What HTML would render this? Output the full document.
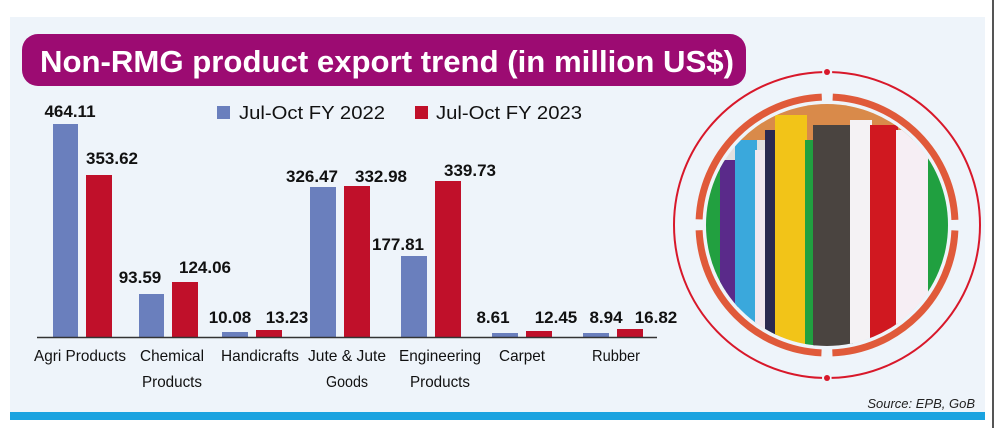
<!DOCTYPE html>
<html><head><meta charset="utf-8"><style>
html,body{margin:0;padding:0;background:#fff;}
svg{display:block}
text{font-family:"Liberation Sans",sans-serif;}
</style></head><body>
<svg width="996" height="428" viewBox="0 0 996 428">
<rect x="0" y="0" width="996" height="428" fill="#fff"/>
<rect x="10" y="17" width="975" height="396" fill="#eef4fa"/>
<rect x="10" y="412" width="975" height="8" fill="#1aa3e0"/>
<rect x="992" y="0" width="2" height="428" fill="#555"/>
<rect x="22" y="34" width="724" height="52" rx="16" fill="#9c0b72"/>
<text x="40" y="72" font-size="31" font-weight="bold" fill="#fff" textLength="694" lengthAdjust="spacingAndGlyphs">Non-RMG product export trend (in million US$)</text>
<!-- legend -->
<rect x="217" y="106" width="13" height="13" fill="#6a7fbd"/>
<text x="239" y="119" font-size="18" fill="#111" textLength="146" lengthAdjust="spacingAndGlyphs">Jul-Oct FY 2022</text>
<rect x="415" y="106" width="13" height="13" fill="#c0102a"/>
<text x="436" y="119" font-size="18" fill="#111" textLength="146" lengthAdjust="spacingAndGlyphs">Jul-Oct FY 2023</text>
<g fill="#6a7fbd">
<rect x="53" y="124" width="25" height="213"/>
<rect x="139" y="294" width="25" height="43"/>
<rect x="222" y="332" width="26" height="5"/>
<rect x="310" y="187" width="26" height="150"/>
<rect x="401" y="256" width="26" height="81"/>
<rect x="492" y="333" width="26" height="4"/>
<rect x="583" y="333" width="26" height="4"/>
</g>
<g fill="#c0102a">
<rect x="86" y="175" width="26" height="162"/>
<rect x="172" y="282" width="26" height="55"/>
<rect x="256" y="330" width="26" height="7"/>
<rect x="344" y="186" width="26" height="151"/>
<rect x="435" y="181" width="26" height="156"/>
<rect x="526" y="331" width="26" height="6"/>
<rect x="617" y="329" width="26" height="8"/>
</g>
<line x1="37" y1="337.5" x2="657" y2="337.5" stroke="#333" stroke-width="1.5"/>
<g font-size="17" font-weight="bold" fill="#111" text-anchor="middle">
<text x="70" y="117">464.11</text>
<text x="112" y="164">353.62</text>
<text x="140" y="283">93.59</text>
<text x="205" y="273">124.06</text>
<text x="230" y="323">10.08</text>
<text x="287" y="323">13.23</text>
<text x="312" y="182">326.47</text>
<text x="381" y="182">332.98</text>
<text x="398" y="250">177.81</text>
<text x="470" y="176">339.73</text>
<text x="493" y="323">8.61</text>
<text x="556" y="323">12.45</text>
<text x="606" y="323">8.94</text>
<text x="656" y="323">16.82</text>
</g>
<g font-size="16" fill="#111" text-anchor="middle">
<text x="80" y="361" textLength="92" lengthAdjust="spacingAndGlyphs">Agri Products</text>
<text x="172" y="361" textLength="64" lengthAdjust="spacingAndGlyphs">Chemical</text>
<text x="172" y="387" textLength="60" lengthAdjust="spacingAndGlyphs">Products</text>
<text x="260" y="361" textLength="78" lengthAdjust="spacingAndGlyphs">Handicrafts</text>
<text x="347" y="361" textLength="78" lengthAdjust="spacingAndGlyphs">Jute &amp; Jute</text>
<text x="347" y="387" textLength="42" lengthAdjust="spacingAndGlyphs">Goods</text>
<text x="440" y="361" textLength="82" lengthAdjust="spacingAndGlyphs">Engineering</text>
<text x="440" y="387" textLength="60" lengthAdjust="spacingAndGlyphs">Products</text>
<text x="522" y="361" textLength="46" lengthAdjust="spacingAndGlyphs">Carpet</text>
<text x="616" y="361" textLength="48" lengthAdjust="spacingAndGlyphs">Rubber</text>
</g>
<text x="975" y="408" font-size="13" font-style="italic" fill="#222" text-anchor="end">Source: EPB, GoB</text>
<!-- circle graphic -->
<defs><clipPath id="c"><circle cx="827" cy="225" r="121"/></clipPath></defs>
<rect x="700" y="100" width="260" height="260" fill="none"/>
<g clip-path="url(#c)">
<rect x="700" y="100" width="260" height="260" fill="#e0e0e0"/>
<rect x="700" y="100" width="260" height="40" fill="#d98a4a"/>
<rect x="705" y="150" width="20" height="210" fill="#22a040"/>
<rect x="720" y="160" width="18" height="200" fill="#5a2a8a"/>
<rect x="735" y="140" width="22" height="220" fill="#3aa8dc"/>
<rect x="755" y="150" width="12" height="210" fill="#f0e8f0"/>
<rect x="765" y="130" width="12" height="230" fill="#2a2a50"/>
<rect x="775" y="115" width="32" height="245" fill="#f2c418"/>
<rect x="805" y="140" width="10" height="220" fill="#20a040"/>
<rect x="813" y="125" width="40" height="235" fill="#4a4440"/>
<rect x="850" y="120" width="22" height="240" fill="#f4f2f4"/>
<rect x="870" y="125" width="28" height="235" fill="#d01820"/>
<rect x="896" y="130" width="34" height="230" fill="#f6eef4"/>
<rect x="928" y="150" width="32" height="210" fill="#20a040"/>
</g>
<circle cx="827" cy="225" r="128" fill="none" stroke="#e05a3a" stroke-width="7" stroke-dasharray="190.06 11" stroke-dashoffset="-5.5"/>
<circle cx="827" cy="225" r="153" fill="none" stroke="#d8182a" stroke-width="2" stroke-dasharray="470.66 10" stroke-dashoffset="-5" transform="rotate(90 827 225)"/>
<circle cx="827" cy="72" r="3" fill="#d8182a"/>
<circle cx="827" cy="378" r="3" fill="#d8182a"/>
</svg>
</body></html>
